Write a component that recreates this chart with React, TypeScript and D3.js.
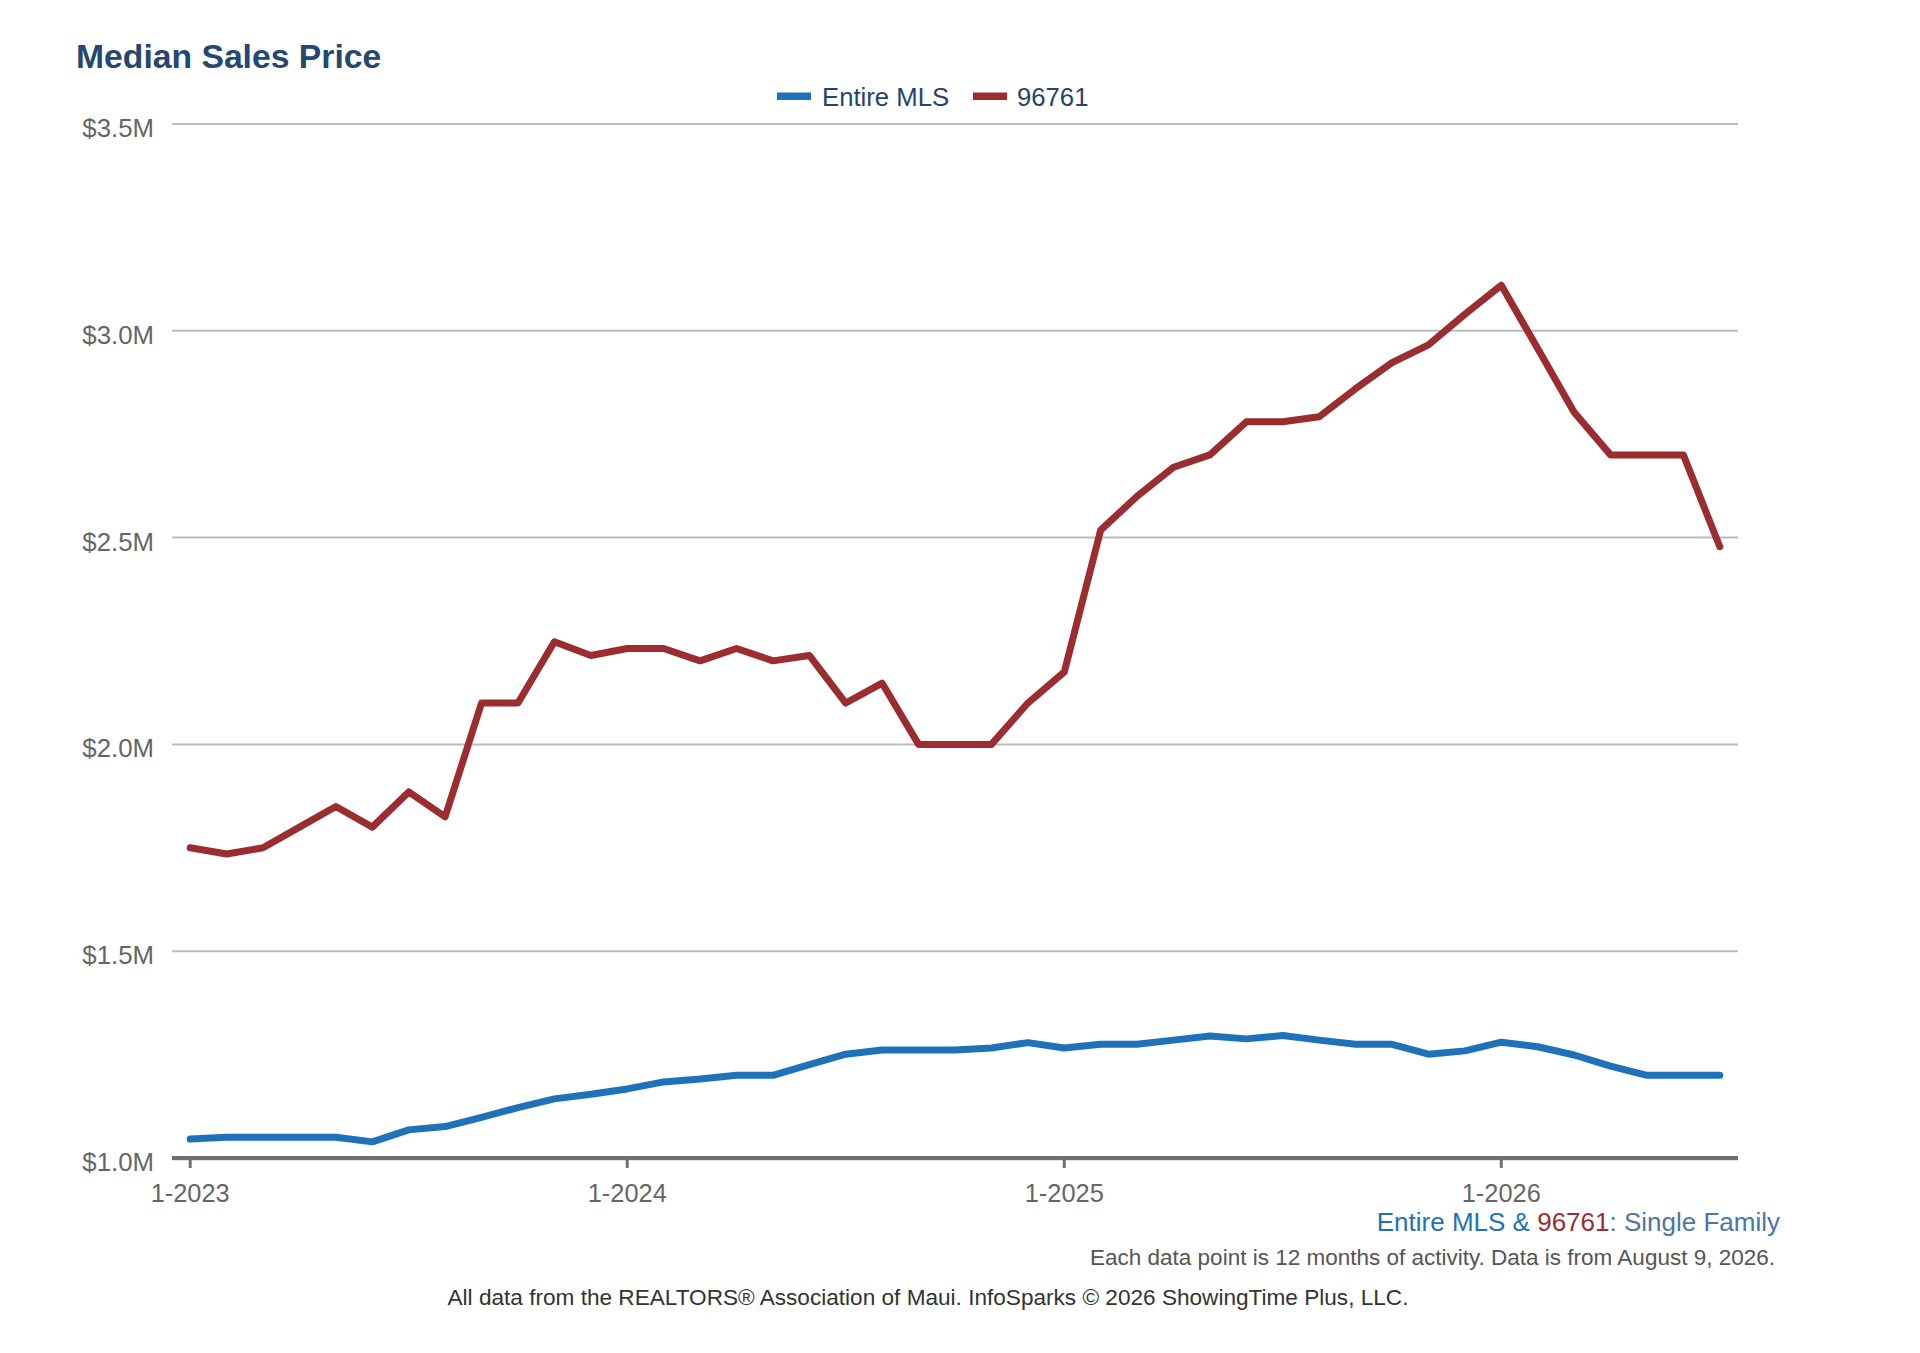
import React from "react";
import * as d3 from "d3";

const months: string[] = [];
for (let y = 2023; y <= 2026; y++) {
  for (let m = 1; m <= 12; m++) {
    if (y === 2026 && m > 7) break;
    months.push(`${m}-${y}`);
  }
}

// Median sales price, thousands of dollars
const entireMLS = [1046, 1050, 1050, 1050, 1050, 1039, 1068, 1076, 1098, 1122, 1143, 1154, 1167, 1184, 1191, 1200, 1200, 1226, 1251, 1261, 1261, 1261, 1266, 1279, 1266, 1275, 1275, 1285, 1295, 1288, 1296, 1285, 1275, 1275, 1251, 1259, 1280, 1269, 1249, 1222, 1200, 1200, 1200];
const zip96761 = [1750, 1735, 1750, 1800, 1850, 1800, 1885, 1825, 2100, 2100, 2248, 2215, 2232, 2232, 2202, 2232, 2202, 2215, 2100, 2148, 2000, 2000, 2000, 2100, 2175, 2518, 2600, 2670, 2700, 2780, 2780, 2792, 2860, 2923, 2966, 3040, 3110, 2957, 2803, 2700, 2700, 2700, 2478];

const yTicks = [1000, 1500, 2000, 2500, 3000, 3500];
const yTickLabels = ["$1.0M", "$1.5M", "$2.0M", "$2.5M", "$3.0M", "$3.5M"];
const xTickMonths = ["1-2023", "1-2024", "1-2025", "1-2026"];

const seriesNames = ["Entire MLS", "96761"];
const seriesColors = ["#1f72b8", "#9b2d30"];

const FONT = "'Liberation Sans', Arial, Helvetica, sans-serif";

export default function App() {
  const W = 1920, H = 1353;
  const left = 172, right = 1738, top = 124, bottom = 1158;

  const x = d3.scalePoint<string>().domain(months).range([left, right]).padding(0.5);
  const y = d3.scaleLinear().domain([1000, 3500]).range([bottom, top]);

  const line = d3
    .line<number>()
    .x((_, i) => x(months[i]) as number)
    .y((d) => y(d));

  const series = [entireMLS, zip96761];

  return (
    <svg
      width={W}
      height={H}
      style={{ position: "absolute", left: 0, top: 0, background: "#fff" }}
      fontFamily={FONT}
    >
      <rect x={0} y={0} width={W} height={H} fill="#fff" />
      <text x={76} y={67.5} fontSize={33.7} fontWeight="bold" fill="#254870">
        Median Sales Price
      </text>

      {/* legend */}
      <g>
        <rect x={777} y={92.5} width={34} height={7.5} fill={seriesColors[0]} />
        <text x={822} y={106} fontSize={25.7} fill="#24456b">
          {seriesNames[0]}
        </text>
        <rect x={973} y={92.5} width={34} height={7.5} fill={seriesColors[1]} />
        <text x={1017} y={106} fontSize={25.7} fill="#24456b">
          {seriesNames[1]}
        </text>
      </g>

      {/* gridlines */}
      {yTicks.map((t, i) =>
        i === 0 ? null : (
          <line key={t} x1={left} x2={right} y1={y(t)} y2={y(t)} stroke="#bcbcbc" strokeWidth={2} />
        )
      )}
      {/* y labels */}
      {yTicks.map((t, i) => (
        <text key={t} x={154} y={y(t) + 13} fontSize={25.8} fill="#666" textAnchor="end">
          {yTickLabels[i]}
        </text>
      ))}

      {/* x axis */}
      <line x1={left} x2={right} y1={bottom + 1.5} y2={bottom + 1.5} stroke="#c8c8c8" strokeWidth={2} />
      <line x1={left} x2={right} y1={bottom} y2={bottom} stroke="#707070" strokeWidth={4} />
      {xTickMonths.map((m) => (
        <g key={m}>
          <line x1={x(m)} x2={x(m)} y1={bottom} y2={bottom + 10} stroke="#707070" strokeWidth={3} />
          <text x={x(m)} y={1201.5} fontSize={25.4} fill="#666" textAnchor="middle">
            {m}
          </text>
        </g>
      ))}

      {/* series */}
      {series.map((s, i) => (
        <path
          key={i}
          d={line(s) || ""}
          fill="none"
          stroke={seriesColors[i]}
          strokeWidth={7}
          strokeLinejoin="round"
          strokeLinecap="round"
        />
      ))}

      {/* footnotes */}
      <text x={1780} y={1231} fontSize={26} textAnchor="end">
        <tspan fill="#1f72b8">Entire MLS &amp; </tspan>
        <tspan fill="#9b2d30">96761</tspan>
        <tspan fill="#4a76a8">: Single Family</tspan>
      </text>
      <text x={1775} y={1265} fontSize={22.5} textAnchor="end" fill="#555">
        Each data point is 12 months of activity. Data is from August 9, 2026.
      </text>
      <text x={928} y={1305} fontSize={22.6} textAnchor="middle" fill="#333">
        All data from the REALTORS® Association of Maui. InfoSparks © 2026 ShowingTime Plus, LLC.
      </text>
    </svg>
  );
}
